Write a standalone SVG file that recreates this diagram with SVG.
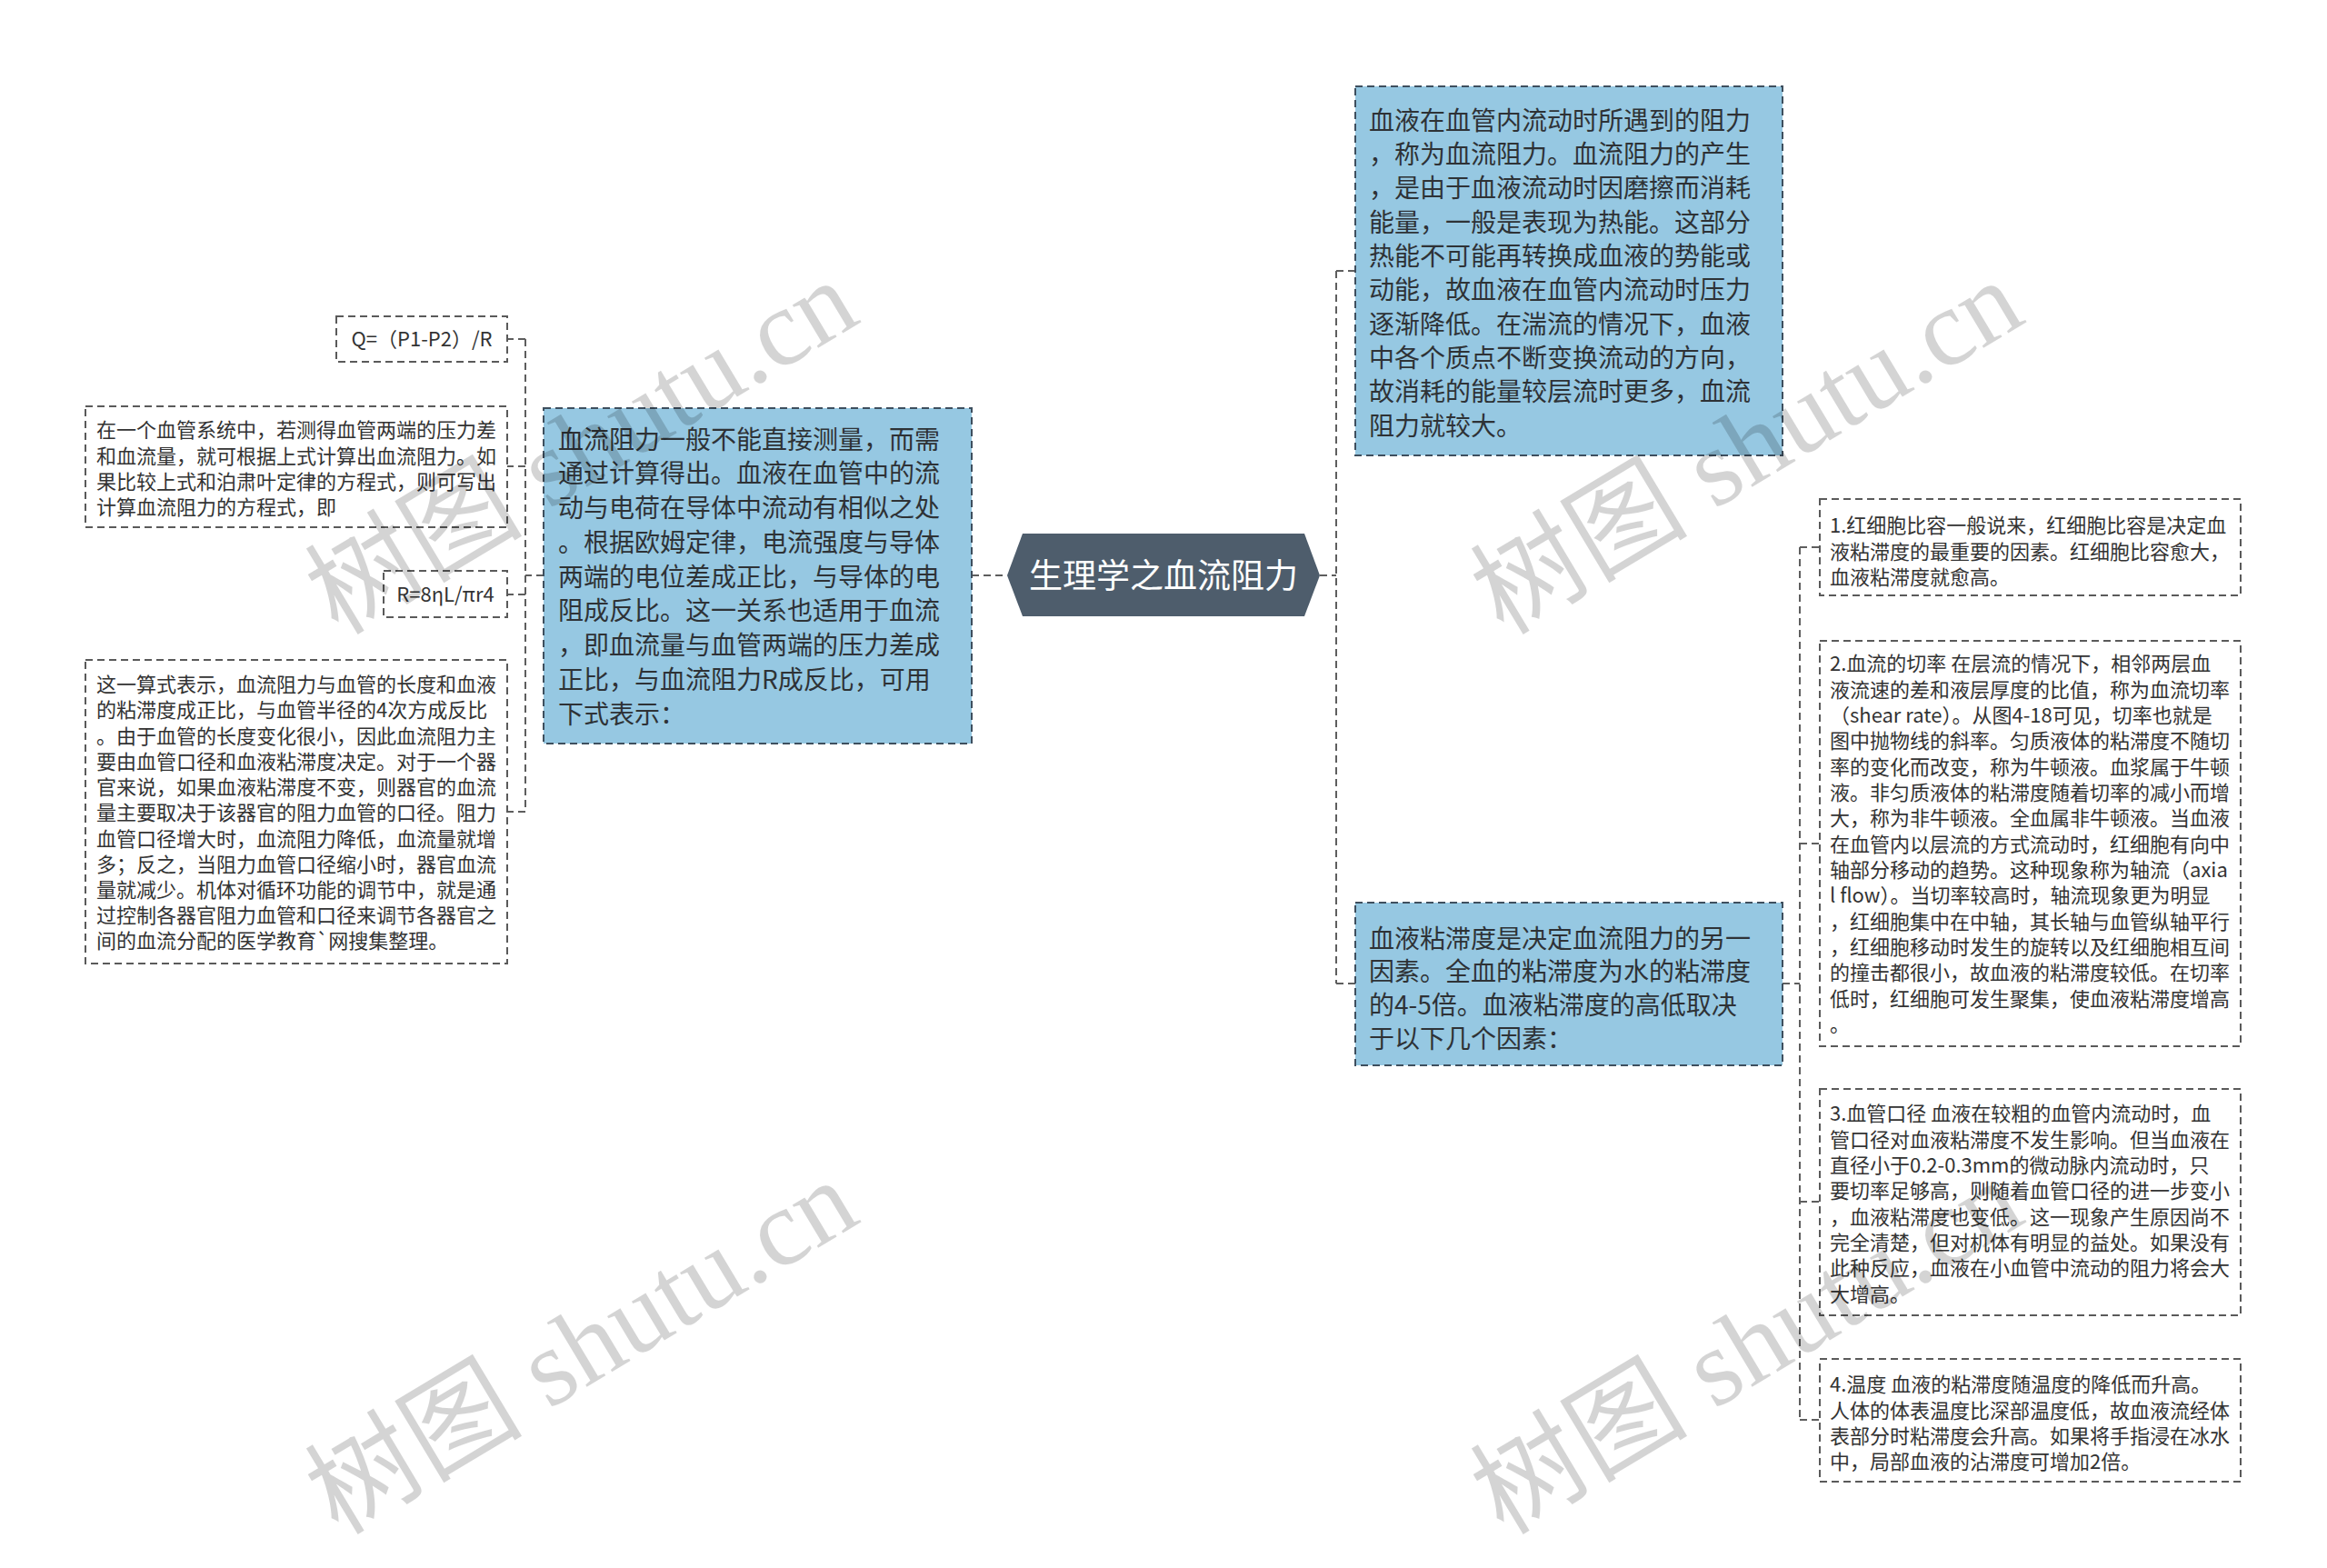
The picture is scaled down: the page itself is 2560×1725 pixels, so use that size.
<svg xmlns="http://www.w3.org/2000/svg" width="2560" height="1725" viewBox="0 0 2560 1725">
<style>
.det{fill:#ffffff;stroke:#5a5a5a;stroke-width:2;stroke-dasharray:8 5}
.blue{fill:#96c8e2;stroke:#3e4f5e;stroke-width:2;stroke-dasharray:8 5}
.conn{fill:none;stroke:#5e5e5e;stroke-width:2;stroke-dasharray:8 5}
.t22{font-family:"Noto Sans CJK SC","Noto Sans",sans-serif;font-size:22px;fill:#333333}
.t28{font-family:"Noto Sans CJK SC","Noto Sans",sans-serif;font-size:28px;fill:#2e3236}
.tc{font-family:"Noto Sans CJK SC","Noto Sans",sans-serif;font-size:37px;fill:#ffffff}
.wm{font-family:"Liberation Serif","Noto Sans CJK SC",serif;font-size:120px;fill:#000000;fill-opacity:0.17}
</style>
<rect width="2560" height="1725" fill="#ffffff"/>
<g id="connectors">
<path class="conn" d="M598 633H578M578 373V893M578 373H558M578 513H558M578 654H558M578 893H558"/>
<path class="conn" d="M1069 633H1108"/>
<path class="conn" d="M1452 633H1470M1470 298V1082M1470 298H1491M1470 1082H1491"/>
<path class="conn" d="M1961 1082H1980M1980 602V1562M1980 602H2002M1980 928H2002M1980 1322H2002M1980 1562H2002"/>
</g>
<g id="center">
<polygon points="1108,633 1125,587 1435,587 1452,633 1435,678 1125,678" fill="#4e5d6c"/>
<text class="tc" x="1280" y="647" text-anchor="middle">生理学之血流阻力</text>
</g>
<g id="left-main">
<rect class="blue" x="598" y="449" width="471" height="369"/>
<text class="t28">
<tspan x="614" y="494">血流阻力一般不能直接测量，而需</tspan>
<tspan x="614" y="531">通过计算得出。血液在血管中的流</tspan>
<tspan x="614" y="569">动与电荷在导体中流动有相似之处</tspan>
<tspan x="614" y="607">。根据欧姆定律，电流强度与导体</tspan>
<tspan x="614" y="645">两端的电位差成正比，与导体的电</tspan>
<tspan x="614" y="682">阻成反比。这一关系也适用于血流</tspan>
<tspan x="614" y="720">，即血流量与血管两端的压力差成</tspan>
<tspan x="614" y="758">正比，与血流阻力R成反比，可用</tspan>
<tspan x="614" y="796">下式表示：</tspan>
</text>
</g>
<g id="formula-q">
<rect class="det" x="370" y="348" width="188" height="50"/>
<text class="t22" x="464" y="381" text-anchor="middle">Q=（P1-P2）/R</text>
</g>
<g id="left-detail-1">
<rect class="det" x="94" y="447" width="464" height="133"/>
<text class="t22">
<tspan x="106" y="481">在一个血管系统中，若测得血管两端的压力差</tspan>
<tspan x="106" y="510">和血流量，就可根据上式计算出血流阻力。如</tspan>
<tspan x="106" y="538">果比较上式和泊肃叶定律的方程式，则可写出</tspan>
<tspan x="106" y="566">计算血流阻力的方程式，即</tspan>
</text>
</g>
<g id="formula-r">
<rect class="det" x="422" y="628" width="136" height="51"/>
<text class="t22" x="490" y="662" text-anchor="middle">R=8ηL/πr4</text>
</g>
<g id="left-detail-2">
<rect class="det" x="94" y="726" width="464" height="334"/>
<text class="t22">
<tspan x="106" y="761">这一算式表示，血流阻力与血管的长度和血液</tspan>
<tspan x="106" y="789">的粘滞度成正比，与血管半径的4次方成反比</tspan>
<tspan x="106" y="818">。由于血管的长度变化很小，因此血流阻力主</tspan>
<tspan x="106" y="846">要由血管口径和血液粘滞度决定。对于一个器</tspan>
<tspan x="106" y="874">官来说，如果血液粘滞度不变，则器官的血流</tspan>
<tspan x="106" y="902">量主要取决于该器官的阻力血管的口径。阻力</tspan>
<tspan x="106" y="931">血管口径增大时，血流阻力降低，血流量就增</tspan>
<tspan x="106" y="959">多；反之，当阻力血管口径缩小时，器官血流</tspan>
<tspan x="106" y="987">量就减少。机体对循环功能的调节中，就是通</tspan>
<tspan x="106" y="1015">过控制各器官阻力血管和口径来调节各器官之</tspan>
<tspan x="106" y="1043">间的血流分配的医学教育`网搜集整理。</tspan>
</text>
</g>
<g id="right-top">
<rect class="blue" x="1491" y="95" width="470" height="406"/>
<text class="t28">
<tspan x="1506" y="143">血液在血管内流动时所遇到的阻力</tspan>
<tspan x="1506" y="180">，称为血流阻力。血流阻力的产生</tspan>
<tspan x="1506" y="217">，是由于血液流动时因磨擦而消耗</tspan>
<tspan x="1506" y="255">能量，一般是表现为热能。这部分</tspan>
<tspan x="1506" y="292">热能不可能再转换成血液的势能或</tspan>
<tspan x="1506" y="329">动能，故血液在血管内流动时压力</tspan>
<tspan x="1506" y="367">逐渐降低。在湍流的情况下，血液</tspan>
<tspan x="1506" y="404">中各个质点不断变换流动的方向，</tspan>
<tspan x="1506" y="441">故消耗的能量较层流时更多，血流</tspan>
<tspan x="1506" y="479">阻力就较大。</tspan>
</text>
</g>
<g id="right-bottom">
<rect class="blue" x="1491" y="993" width="470" height="179"/>
<text class="t28">
<tspan x="1506" y="1043">血液粘滞度是决定血流阻力的另一</tspan>
<tspan x="1506" y="1079">因素。全血的粘滞度为水的粘滞度</tspan>
<tspan x="1506" y="1116">的4-5倍。血液粘滞度的高低取决</tspan>
<tspan x="1506" y="1153">于以下几个因素：</tspan>
</text>
</g>
<g id="factor-1">
<rect class="det" x="2002" y="549" width="463" height="106"/>
<text class="t22">
<tspan x="2013" y="586">1.红细胞比容一般说来，红细胞比容是决定血</tspan>
<tspan x="2013" y="615">液粘滞度的最重要的因素。红细胞比容愈大，</tspan>
<tspan x="2013" y="643">血液粘滞度就愈高。</tspan>
</text>
</g>
<g id="factor-2">
<rect class="det" x="2002" y="705" width="463" height="446"/>
<text class="t22">
<tspan x="2013" y="738">2.血流的切率 在层流的情况下，相邻两层血</tspan>
<tspan x="2013" y="767">液流速的差和液层厚度的比值，称为血流切率</tspan>
<tspan x="2013" y="795">（shear rate）。从图4-18可见，切率也就是</tspan>
<tspan x="2013" y="823">图中抛物线的斜率。匀质液体的粘滞度不随切</tspan>
<tspan x="2013" y="852">率的变化而改变，称为牛顿液。血浆属于牛顿</tspan>
<tspan x="2013" y="880">液。非匀质液体的粘滞度随着切率的减小而增</tspan>
<tspan x="2013" y="908">大，称为非牛顿液。全血属非牛顿液。当血液</tspan>
<tspan x="2013" y="937">在血管内以层流的方式流动时，红细胞有向中</tspan>
<tspan x="2013" y="965">轴部分移动的趋势。这种现象称为轴流（axia</tspan>
<tspan x="2013" y="993">l flow）。当切率较高时，轴流现象更为明显</tspan>
<tspan x="2013" y="1022">，红细胞集中在中轴，其长轴与血管纵轴平行</tspan>
<tspan x="2013" y="1050">，红细胞移动时发生的旋转以及红细胞相互间</tspan>
<tspan x="2013" y="1078">的撞击都很小，故血液的粘滞度较低。在切率</tspan>
<tspan x="2013" y="1107">低时，红细胞可发生聚集，使血液粘滞度增高</tspan>
<tspan x="2013" y="1135">。</tspan>
</text>
</g>
<g id="factor-3">
<rect class="det" x="2002" y="1198" width="463" height="249"/>
<text class="t22">
<tspan x="2013" y="1233">3.血管口径 血液在较粗的血管内流动时，血</tspan>
<tspan x="2013" y="1262">管口径对血液粘滞度不发生影响。但当血液在</tspan>
<tspan x="2013" y="1290">直径小于0.2-0.3mm的微动脉内流动时，只</tspan>
<tspan x="2013" y="1318">要切率足够高，则随着血管口径的进一步变小</tspan>
<tspan x="2013" y="1347">，血液粘滞度也变低。这一现象产生原因尚不</tspan>
<tspan x="2013" y="1375">完全清楚，但对机体有明显的益处。如果没有</tspan>
<tspan x="2013" y="1403">此种反应，血液在小血管中流动的阻力将会大</tspan>
<tspan x="2013" y="1432">大增高。</tspan>
</text>
</g>
<g id="factor-4">
<rect class="det" x="2002" y="1495" width="463" height="135"/>
<text class="t22">
<tspan x="2013" y="1531">4.温度 血液的粘滞度随温度的降低而升高。</tspan>
<tspan x="2013" y="1560">人体的体表温度比深部温度低，故血液流经体</tspan>
<tspan x="2013" y="1588">表部分时粘滞度会升高。如果将手指浸在冰水</tspan>
<tspan x="2013" y="1616">中，局部血液的沾滞度可增加2倍。</tspan>
</text>
</g>
<g id="watermarks">
<text class="wm" transform="translate(372 700) rotate(-31)">树图 shutu.cn</text>
<text class="wm" transform="translate(372 1690) rotate(-31)">树图 shutu.cn</text>
<text class="wm" transform="translate(1654 700) rotate(-31)">树图 shutu.cn</text>
<text class="wm" transform="translate(1654 1690) rotate(-31)">树图 shutu.cn</text>
</g>
</svg>
